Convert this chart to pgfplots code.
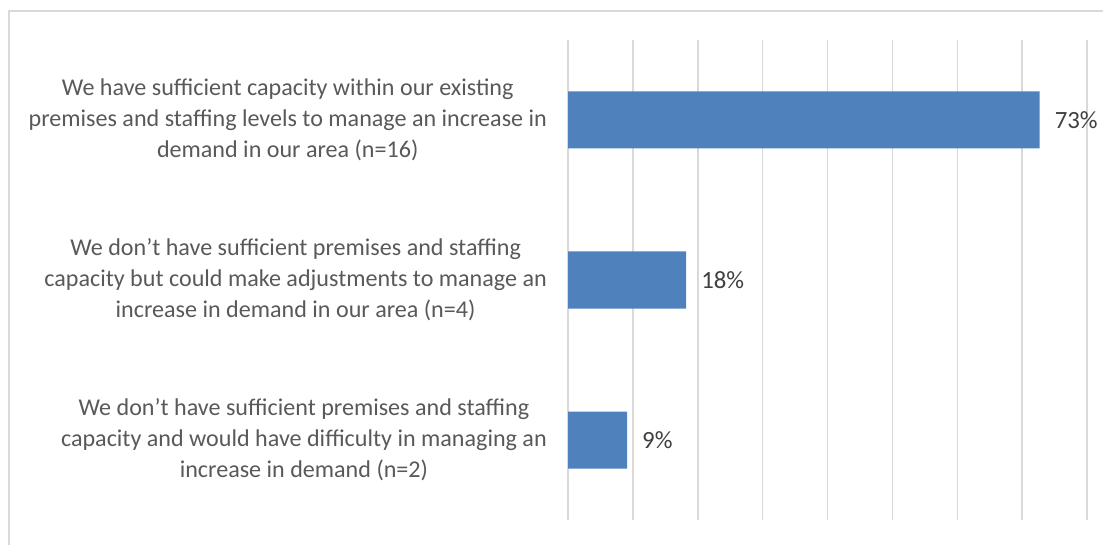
\documentclass[border=0pt]{standalone}
\usepackage{fontspec}
\setmainfont{Carlito}
\usepackage{pgfplots}
\pgfplotsset{compat=1.18}
\definecolor{barblue}{HTML}{4F81BD}
\definecolor{gridgray}{HTML}{D9D9D9}
\definecolor{labelgray}{HTML}{595959}
\definecolor{valgray}{HTML}{404040}

\begin{document}
\begin{tikzpicture}
% page size in px-like units
\path[use as bounding box] (0pt,0pt) rectangle (1103pt,545pt);
% chart area frame (cropped at right and bottom)
\draw[gridgray, line width=1.5pt] (9pt,0pt) -- (9pt,534pt) -- (1103pt,534pt);

\begin{axis}[
	at={(568pt,25pt)}, anchor=south west,
	scale only axis,
	width=519pt, height=480pt,
	xbar, bar width=57pt,
	xmin=0, xmax=80,
	ymin=-0.5, ymax=2.5,
	y dir=reverse,
	xtick={0,10,...,80},
	xticklabels={},
	ytick={0,1,2},
	yticklabels={
		{We have sufficient capacity within our existing\\premises and staffing levels to manage an increase in\\demand in our area (n=16)},
		{We don’t have sufficient premises and staffing\\capacity but could make adjustments to manage an\\increase in demand in our area (n=4)},
		{We don’t have sufficient premises and staffing\\capacity and would have difficulty in managing an\\increase in demand (n=2)}
	},
	yticklabel style={align=center, inner sep=0pt, xshift=-21pt, text=labelgray,
		font=\fontsize{24.1}{31}\selectfont},
	xmajorgrids,
	grid style={gridgray, line width=1.5pt},
	axis line style={draw=none},
	major tick length=0pt,
	nodes near coords={\pgfmathprintnumber[fixed,precision=0]{\pgfplotspointmeta}\%},
	nodes near coords style={anchor=west, inner sep=0pt, xshift=15pt, text=valgray,
		font=\fontsize{24.8}{31}\selectfont},
	/pgf/number format/assume math mode=true,
	clip=false,
]
\addplot[fill=barblue, draw=none] coordinates {
	(72.7,0) (18.2,1) (9.1,2)
};
\end{axis}
\end{tikzpicture}
\end{document}
